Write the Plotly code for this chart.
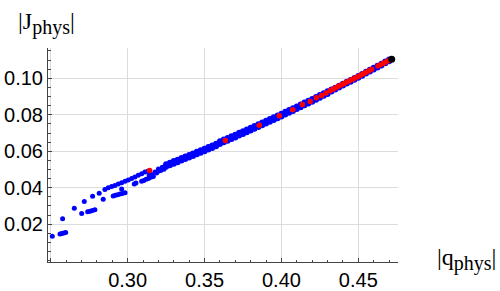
import plotly.graph_objects as go

# ---------------- data ----------------
# scattered blue points on the left (two branches)
blue_scatter_x = [0.2510, 0.2560, 0.2572, 0.2585, 0.2597, 0.2577, 0.2653, 0.2701, 0.2718,
                  0.2740, 0.2755, 0.2770, 0.2787, 0.2772, 0.2815, 0.2841, 0.2852,
                  0.2874, 0.2896, 0.2917, 0.2939, 0.2961, 0.2983, 0.3004, 0.3026, 0.3047,
                  0.3069, 0.3091, 0.3112, 0.3130,
                  0.2906, 0.2920, 0.2935, 0.2950, 0.2965, 0.2983, 0.2961, 0.3043, 0.3054,
                  0.3091, 0.3105, 0.3120, 0.3135, 0.3150, 0.3167, 0.3140, 0.3156,
                  0.3178, 0.3188, 0.3199, 0.3215, 0.3236, 0.3200, 0.3225]
blue_scatter_y = [0.0134, 0.0147, 0.0149, 0.0152, 0.0155, 0.0230, 0.0287, 0.0259, 0.0325,
                  0.0268, 0.0271, 0.0275, 0.0279, 0.0353, 0.0370, 0.0337, 0.0390,
                  0.0400, 0.0407, 0.0413, 0.0420, 0.0428, 0.0435, 0.0443, 0.0451, 0.0459,
                  0.0468, 0.0477, 0.0486, 0.0491,
                  0.0355, 0.0359, 0.0362, 0.0366, 0.0369, 0.0373, 0.0393, 0.0421, 0.0426,
                  0.0435, 0.0440, 0.0446, 0.0451, 0.0457, 0.0462, 0.0468, 0.0472,
                  0.0486, 0.0481, 0.0490, 0.0495, 0.0501, 0.0503, 0.0512]

# dense blue band along the main curve: x positions, upper and lower edge rows
band_x = [0.3250, 0.3275, 0.3300, 0.3325, 0.3350, 0.3375, 0.3400, 0.3425, 0.3450, 0.3475,
          0.3500, 0.3525, 0.3550, 0.3575, 0.3600, 0.3625, 0.3650, 0.3675, 0.3700, 0.3725,
          0.3750, 0.3775, 0.3800, 0.3825, 0.3850, 0.3875, 0.3900, 0.3925, 0.3950, 0.3975,
          0.4000, 0.4025, 0.4050, 0.4075, 0.4100, 0.4125, 0.4150, 0.4175, 0.4200, 0.4225,
          0.4250, 0.4275, 0.4300, 0.4325, 0.4350, 0.4375, 0.4400, 0.4425, 0.4450, 0.4475,
          0.4500, 0.4525, 0.4550, 0.4575, 0.4600, 0.4625, 0.4650, 0.4675, 0.4700]
band_upper = [0.0529, 0.0537, 0.0546, 0.0554, 0.0563, 0.0571, 0.0580, 0.0588, 0.0597, 0.0606,
              0.0614, 0.0623, 0.0632, 0.0641, 0.0655, 0.0664, 0.0673, 0.0682, 0.0691, 0.0701,
              0.0710, 0.0719, 0.0729, 0.0738, 0.0748, 0.0757, 0.0767, 0.0777, 0.0786, 0.0796,
              0.0806, 0.0816, 0.0826, 0.0836, 0.0846, 0.0856, 0.0867, 0.0877, 0.0887, 0.0898,
              0.0908, 0.0918, 0.0929, 0.0938, 0.0948, 0.0959, 0.0970, 0.0981, 0.0991, 0.1002,
              0.1013, 0.1024, 0.1036, 0.1047, 0.1058, 0.1069, 0.1080, 0.1092, 0.1103]
band_lower = [0.0515, 0.0523, 0.0532, 0.0540, 0.0549, 0.0557, 0.0566, 0.0574, 0.0583, 0.0592,
              0.0600, 0.0609, 0.0618, 0.0627, 0.0640, 0.0649, 0.0658, 0.0667, 0.0676, 0.0686,
              0.0695, 0.0704, 0.0714, 0.0723, 0.0733, 0.0742, 0.0752, 0.0762, 0.0771, 0.0781,
              0.0791, 0.0801, 0.0811, 0.0821, 0.0831, 0.0841, 0.0852, 0.0862, 0.0872, 0.0883,
              0.0893, 0.0904, 0.0914, 0.0928, 0.0938, 0.0949, 0.0960, 0.0971, 0.0981, 0.0992,
              0.1003, 0.1014, 0.1026, 0.1037, 0.1048, 0.1059, 0.1070, 0.1082, 0.1093]

# red points
red_x = [0.3143, 0.3635, 0.3856, 0.3986, 0.4073, 0.4136, 0.4187, 0.4227, 0.4261, 0.4290,
         0.4317, 0.4335, 0.4353, 0.4371, 0.4389, 0.4407, 0.4425, 0.4443, 0.4461, 0.4479,
         0.4497, 0.4515, 0.4533, 0.4551, 0.4569, 0.4587,
         0.4628, 0.4646, 0.4664, 0.4682, 0.4700]
red_y = [0.0494, 0.0659, 0.0743, 0.0795, 0.0828, 0.0856, 0.0873, 0.0893, 0.0905, 0.0919,
         0.0932, 0.0940, 0.0948, 0.0956, 0.0963, 0.0971, 0.0979, 0.0986, 0.0994, 0.1002,
         0.1009, 0.1017, 0.1025, 0.1033, 0.1041, 0.1049,
         0.1067, 0.1075, 0.1083, 0.1091, 0.1099]

# black end point
black_x = [0.4717]
black_y = [0.1104]

# ticks
x_tick_vals = [0.25, 0.30, 0.35, 0.40, 0.45]
x_tick_text = ["", "0.30", "0.35", "0.40", "0.45"]
y_tick_vals = [0.02, 0.04, 0.06, 0.08, 0.10]
y_tick_text = ["0.02", "0.04", "0.06", "0.08", "0.10"]

# ---------------- figure ----------------
fig = go.Figure()
fig.add_trace(go.Scatter(x=blue_scatter_x, y=blue_scatter_y, mode="markers",
                         marker=dict(color="#0000FF", size=5, line=dict(width=0)),
                         showlegend=False, hoverinfo="skip"))
fig.add_trace(go.Scatter(x=band_x + band_x, y=band_upper + band_lower, mode="markers",
                         marker=dict(color="#0000FF", size=6, line=dict(width=0)),
                         showlegend=False, hoverinfo="skip"))
fig.add_trace(go.Scatter(x=red_x, y=red_y, mode="markers",
                         marker=dict(color="#FF0000", size=5.5, line=dict(width=0)),
                         showlegend=False, hoverinfo="skip"))
fig.add_trace(go.Scatter(x=black_x, y=black_y, mode="markers",
                         marker=dict(color="#000000", size=7, line=dict(width=0)),
                         showlegend=False, hoverinfo="skip"))

tickfont = dict(family="Liberation Sans, Arial, sans-serif", size=20, color="#000000")

fig.update_xaxes(range=[0.2482, 0.4758], tickmode="array", tickvals=x_tick_vals,
                 ticktext=x_tick_text, ticks="inside", ticklen=4, tickwidth=1,
                 tickcolor="#444444", showline=True, linecolor="#444444", linewidth=1,
                 showgrid=True, gridcolor="#dcdcdc", gridwidth=1, zeroline=False,
                 tickfont=tickfont, automargin=False,
                 minor=dict(tickmode="linear", tick0=0.25, dtick=0.01, ticks="inside",
                            ticklen=2.5, tickcolor="#444444", showgrid=False))
fig.update_yaxes(range=[-0.0007, 0.1166], tickmode="array", tickvals=y_tick_vals,
                 ticktext=y_tick_text, ticks="inside", ticklen=4, tickwidth=1,
                 tickcolor="#444444", showline=True, linecolor="#444444", linewidth=1,
                 showgrid=True, gridcolor="#dcdcdc", gridwidth=1, zeroline=False,
                 tickfont=tickfont, automargin=False,
                 minor=dict(tickmode="linear", tick0=0.0, dtick=0.005, ticks="inside",
                            ticklen=2.5, tickcolor="#444444", showgrid=False))

labelfont = dict(family="Liberation Serif, Times New Roman, serif", size=24, color="#000000")
fig.add_annotation(text="|J<sub><span style='font-size:20px'>phys</span></sub>|",
                   xref="paper", yref="paper",
                   x=-0.003, y=1.035, xanchor="center", yanchor="bottom",
                   showarrow=False, font=labelfont)
fig.add_annotation(text="|q<sub><span style='font-size:20px'>phys</span></sub>|",
                   xref="paper", yref="paper",
                   x=1.105, y=0.01, xanchor="left", yanchor="middle",
                   showarrow=False, font=labelfont)

fig.update_layout(width=500, height=291, margin=dict(l=48, r=102, t=48, b=29),
                  paper_bgcolor="white", plot_bgcolor="white")

# remove the default page margin so the figure sits at the window's top-left corner
fig.write_html("out.html", config={"displayModeBar": False},
               post_script="document.body.style.margin='0';")
